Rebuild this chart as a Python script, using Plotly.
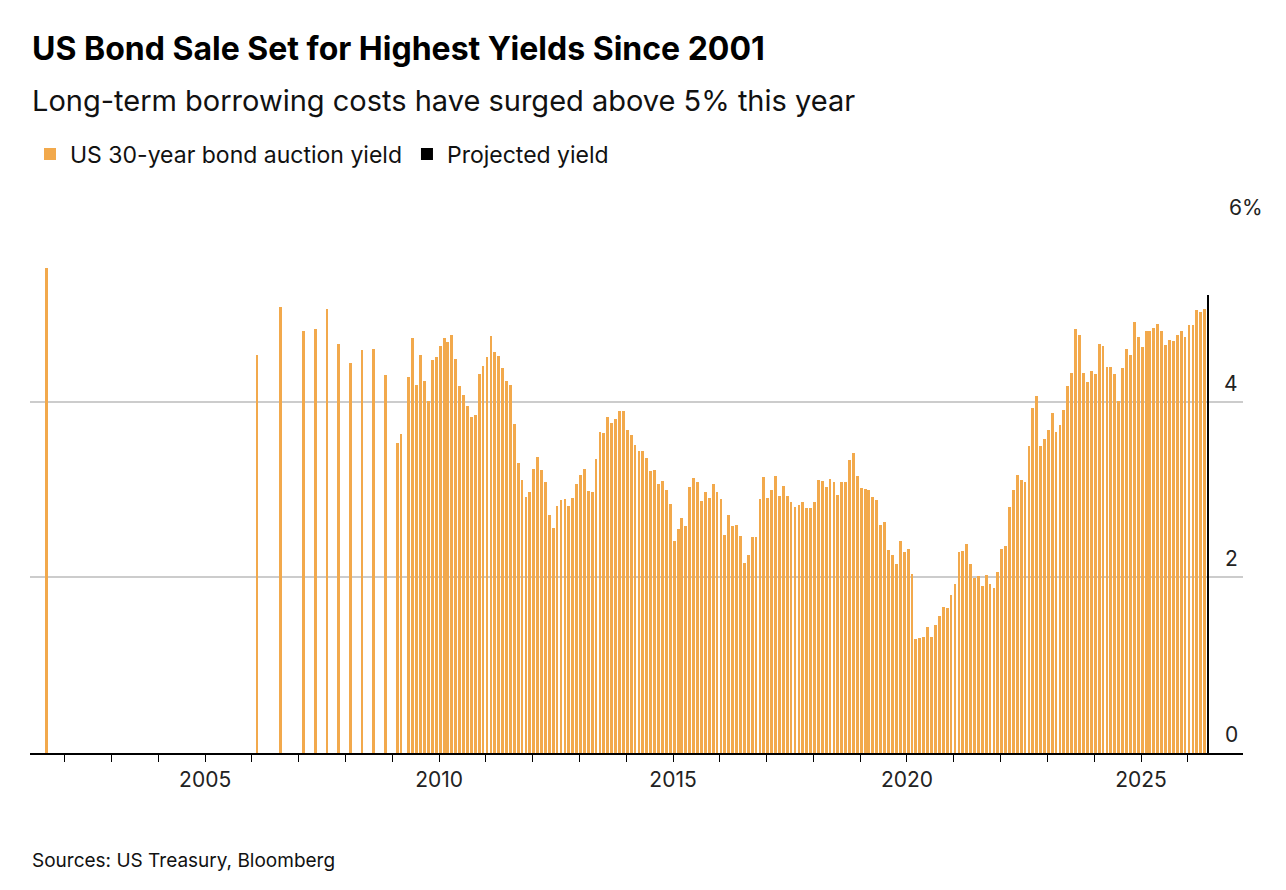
import pandas as pd
import plotly.graph_objects as go

# Early (sparse) auctions
early_dates = ["2001-08-10", "2006-02-10", "2006-08-10", "2007-02-10", "2007-05-10",
               "2007-08-10", "2007-11-10", "2008-02-10", "2008-05-10", "2008-08-10",
               "2008-11-10", "2009-02-10", "2009-03-10"]
early_yields = [5.52, 4.53, 5.08, 4.81, 4.83, 5.06, 4.66, 4.44, 4.59, 4.60, 4.30, 3.53, 3.63]

# Monthly auctions from May 2009
monthly_start = "2009-05-01"
monthly_yields = [
    4.28, 4.72, 4.19, 4.53, 4.24, 4.01, 4.47, 4.51, 4.63, 4.72, 4.68, 4.76, 4.49, 4.18, 4.08,
    3.95, 3.82, 3.85, 4.32, 4.41, 4.51, 4.75, 4.57, 4.52, 4.38, 4.24, 4.19, 3.75, 3.30, 3.11,
    2.92, 2.97, 3.23, 3.37, 3.22, 3.08, 2.71, 2.56, 2.81, 2.88, 2.89, 2.81, 2.90, 3.06, 3.17,
    3.23, 2.98, 2.97, 3.35, 3.66, 3.64, 3.82, 3.76, 3.80, 3.89, 3.89, 3.68, 3.62, 3.51, 3.44,
    3.44, 3.36, 3.21, 3.22, 3.06, 3.10, 3.00,
    2.84, 2.41, 2.55, 2.67, 2.58, 3.03, 3.13, 3.08, 2.87, 2.97, 2.90, 3.06, 2.97, 2.89, 2.48,
    2.71, 2.58, 2.60, 2.47, 2.16, 2.26, 2.46, 2.46, 2.89, 3.14, 2.90, 3.00, 3.15, 2.93, 3.04,
    2.93, 2.86, 2.80, 2.82,
    2.86, 2.79, 2.79, 2.86, 3.11, 3.10, 3.03, 3.12, 3.09, 2.94, 3.09, 3.08, 3.34, 3.41, 3.15,
    3.02, 3.01, 3.00, 2.92, 2.88, 2.60, 2.63, 2.31, 2.25, 2.15, 2.41, 2.29, 2.32, 2.04, 1.30,
    1.31, 1.32, 1.43, 1.32,
    1.46, 1.56, 1.66, 1.65, 1.80, 1.92, 2.29, 2.30, 2.38, 2.15, 1.99, 2.02, 1.90, 2.03, 1.92,
    1.88, 2.06, 2.32, 2.36, 2.80, 2.99, 3.17, 3.11, 3.09, 3.50, 3.93, 4.07, 3.50, 3.58, 3.68,
    3.87, 3.66, 3.73, 3.90,
    4.18, 4.33, 4.83, 4.76, 4.33, 4.22, 4.35, 4.32, 4.66, 4.63, 4.40, 4.40, 4.31, 4.01, 4.38,
    4.60, 4.53, 4.91, 4.74, 4.62, 4.81, 4.81, 4.84, 4.88, 4.81, 4.64, 4.70, 4.69, 4.76, 4.81,
    4.74, 4.87, 4.87, 5.04, 5.02, 5.05,
]

projected_dates = ["2026-06-12"]
projected_yields = [5.22]

ytick_vals = [0, 2, 4]
ytick_text = ["0", "2", "4"]
x_label_years = [2005, 2010, 2015, 2020, 2025]

monthly_dates = pd.date_range(monthly_start, periods=len(monthly_yields), freq="MS") + pd.Timedelta(days=9)
auction_dates = list(pd.to_datetime(early_dates)) + list(monthly_dates)
auction_yields = early_yields + monthly_yields

ORANGE = "#F2A94C"
DAY = 86400000
FONT = "Inter, Liberation Sans, Arial, sans-serif"
PLOT_H = 527.0

def py(pix):
    return (745 - pix) / PLOT_H

fig = go.Figure()
fig.add_trace(go.Bar(x=auction_dates, y=auction_yields, width=[22 * DAY] * len(auction_yields),
                     marker=dict(color=ORANGE, line=dict(width=0)),
                     name="US 30-year bond auction yield"))
fig.add_trace(go.Bar(x=pd.to_datetime(projected_dates), y=projected_yields, width=[14 * DAY],
                     marker=dict(color="#000000", line=dict(width=0)),
                     name="Projected yield"))

years = list(range(2002, 2027))
fig.update_xaxes(
    type="date", range=["2001-04-05", "2027-03-08"],
    tickvals=[f"{y}-01-01" for y in years],
    ticktext=[str(y) if y in x_label_years else "" for y in years],
    ticks="outside", ticklen=7, tickcolor="#000", tickwidth=1,
    showline=True, linecolor="#000", linewidth=2,
    showgrid=False, tickfont=dict(size=21, color="#222", family=FONT),
)
fig.update_yaxes(range=[0, 6], tickvals=[0, 2, 4, 6], showticklabels=False,
                 showgrid=True, gridcolor="#cccccc", gridwidth=1.5, zeroline=False)

ann = [
    dict(xref="paper", yref="paper", x=0, y=py(40), xanchor="left", yanchor="middle",
         text="<b>US Bond Sale Set for Highest Yields Since 2001</b>", showarrow=False,
         font=dict(size=32, color="#000", family=FONT)),
    dict(xref="paper", yref="paper", x=0, y=py(92), xanchor="left", yanchor="middle",
         text="Long-term borrowing costs have surged above 5% this year", showarrow=False,
         font=dict(size=29, color="#111", family=FONT)),
    dict(xref="paper", yref="paper", x=0, y=py(852), xanchor="left", yanchor="middle",
         text="Sources: US Treasury, Bloomberg", showarrow=False,
         font=dict(size=19, color="#111", family=FONT)),
]
for v, t in zip(ytick_vals, ytick_text):
    ann.append(dict(xref="paper", yref="y", x=1, y=v, xanchor="right", yanchor="bottom",
                    xshift=-3, yshift=4, text=t, showarrow=False,
                    font=dict(size=21, color="#222", family=FONT)))
ann.append(dict(xref="paper", yref="y", x=1, y=6, xanchor="right", yanchor="bottom",
                xshift=22, yshift=4, text="6%", showarrow=False,
                font=dict(size=21, color="#222", family=FONT)))

fig.update_layout(
    width=1286, height=890, plot_bgcolor="white", paper_bgcolor="white",
    margin=dict(l=22, r=51, t=218, b=145),
    barmode="overlay", bargap=0,
    showlegend=True,
    legend=dict(orientation="h", x=0, y=py(146),
                xanchor="left", yanchor="middle", font=dict(size=23, color="#111", family=FONT),
                traceorder="normal"),
    annotations=ann,
    font=dict(family=FONT),
)
fig.write_html("out.html")
